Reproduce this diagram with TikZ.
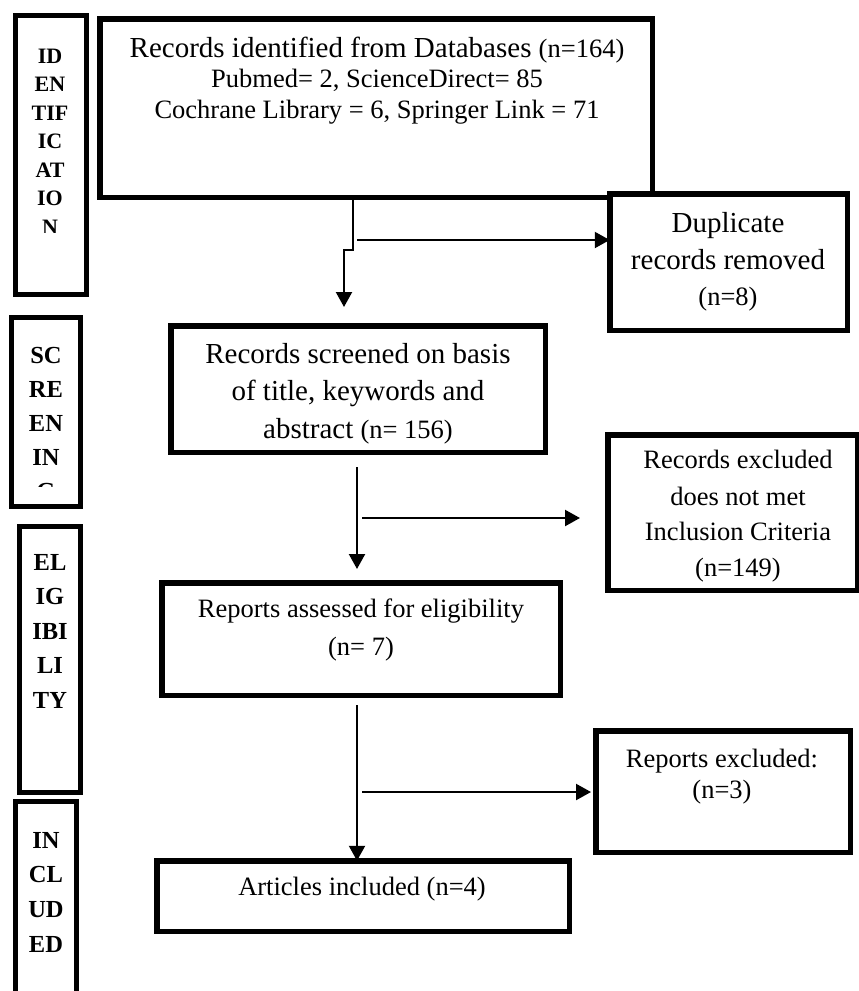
\documentclass[tikz,border=0pt]{standalone}
\usepackage{fontspec}
\setmainfont{Liberation Serif}
\usetikzlibrary{arrows.meta}
\begin{document}
\begin{tikzpicture}[x=1pt,y=-1pt,
  box/.style={draw, line width=5.5pt, fill=white, inner sep=0pt, outer sep=0pt},
  sidebox/.style={draw, line width=5pt, fill=white, inner sep=0pt, outer sep=0pt},
  big/.style={anchor=base, inner sep=0pt, font=\fontsize{29}{34}\selectfont},
  txt/.style={anchor=base, inner sep=0pt, font=\fontsize{26.5}{30}\selectfont},
  sideA/.style={anchor=base, inner sep=0pt, font=\bfseries\fontsize{22}{26}\selectfont},
  sideB/.style={anchor=base, inner sep=0pt, font=\bfseries\fontsize{24.5}{28}\selectfont},
  arr/.style={line width=2.2pt, -{Triangle[length=15pt,width=16pt]}},
  ln/.style={line width=2.2pt}
]
\useasboundingbox[fill=white] (0,0) rectangle (859,991);

% ---- side stage boxes ----
\node[sidebox, minimum width=71pt, minimum height=279pt] (sid) at (51,155) {};
\node[sidebox, minimum width=69pt, minimum height=189pt] (ssc) at (46,412) {};
\node[sidebox, minimum width=61pt, minimum height=266pt] (sel) at (50,659.5) {};
\node[sidebox, minimum width=61pt, minimum height=196pt] (sin) at (46,899.5) {};

\begin{scope}
\clip (0,0) rectangle (859,232);
\foreach \s [count=\i from 0] in {ID,EN,TIF,IC,AT,IO,N}
  \node[sideA] (lid\i) at (50,{63+28.5*\i}) {\s};
\end{scope}
\begin{scope}
\clip (0,0) rectangle (859,486);
\foreach \s [count=\i from 0] in {SC,RE,EN,IN,G}
  \node[sideB] (lsc\i) at (46,{363+34*\i}) {\s};
\end{scope}
\foreach \s [count=\i from 0] in {EL,IG,IBI,LI,TY}
  \node[sideB] (lel\i) at (50,{570+34.5*\i}) {\s};
\foreach \s [count=\i from 0] in {IN,CL,UD,ED}
  \node[sideB] (lin\i) at (46,{848+34.7*\i}) {\s};

% ---- main boxes ----
\node[box, minimum width=552.5pt, minimum height=178.5pt] (top) at (376,108) {};
\node[box, minimum width=237.5pt, minimum height=136.5pt] (dup) at (728.5,262) {};
\node[box, minimum width=374.5pt, minimum height=126.5pt] (scr) at (358,389) {};
\node[box, minimum width=249.5pt, minimum height=155.5pt] (exc) at (732.5,512.5) {};
\node[box, minimum width=398.5pt, minimum height=112.5pt] (eli) at (361,639) {};
\node[box, minimum width=254.5pt, minimum height=121.5pt] (rex) at (723,791.5) {};
\node[box, minimum width=412.5pt, minimum height=70.5pt] (art) at (363,896) {};

% ---- texts ----
\node[big] (t1a) at (377,57) {Records identified from Databases {\fontsize{26.5}{30}\selectfont(n=164)}};
\node[txt] (t1b) at (377,87.5) {Pubmed= 2, ScienceDirect= 85};
\node[txt] (t1c) at (377,118) {Cochrane Library = 6, Springer Link = 71};

\node[big] (t2a) at (728,232) {Duplicate};
\node[big] (t2b) at (728,269) {records removed};
\node[txt] (t2c) at (728,305) {(n=8)};

\node[big] (t3a) at (358,363) {Records screened on basis};
\node[big] (t3b) at (358,400) {of title, keywords and};
\node[big] (t3c) at (358,438) {abstract {\fontsize{26.5}{30}\selectfont(n= 156)}};

\node[txt] (t4a) at (738,468) {Records excluded};
\node[txt] (t4b) at (738,505) {does not met};
\node[txt] (t4c) at (738,540) {Inclusion Criteria};
\node[txt] (t4d) at (738,576) {(n=149)};

\node[txt] (t5a) at (361,617) {Reports assessed for eligibility};
\node[txt] (t5b) at (361,655) {(n= 7)};

\node[txt] (t6a) at (722,767) {Reports excluded:};
\node[txt] (t6b) at (722,798) {(n=3)};

\node[txt] (t7a) at (362,895) {Articles included (n=4)};

% ---- connectors ----
\coordinate (a1s) at (353,198);
\coordinate (a1k) at (353,250);
\coordinate (a1m) at (344,250);
\coordinate (a1e) at (344,307);
\draw[arr] (a1s) -- (a1k) -- (a1m) -- (a1e);
\coordinate (a2s) at (357,240);
\draw[arr] (a2s) -- (a2s -| dup.west);

\coordinate (a3s) at (357,467);
\coordinate (a3e) at (357,569);
\draw[arr] (a3s) -- (a3e);
\coordinate (a4s) at (362,518);
\coordinate (a4e) at (580,518);
\draw[arr] (a4s) -- (a4e);

\coordinate (a5s) at (357,705);
\draw[arr] (a5s) -- (a5s |- art.north);
\coordinate (a6s) at (362,792);
\coordinate (a6e) at (591,792);
\draw[arr] (a6s) -- (a6e);
\end{tikzpicture}
\end{document}
